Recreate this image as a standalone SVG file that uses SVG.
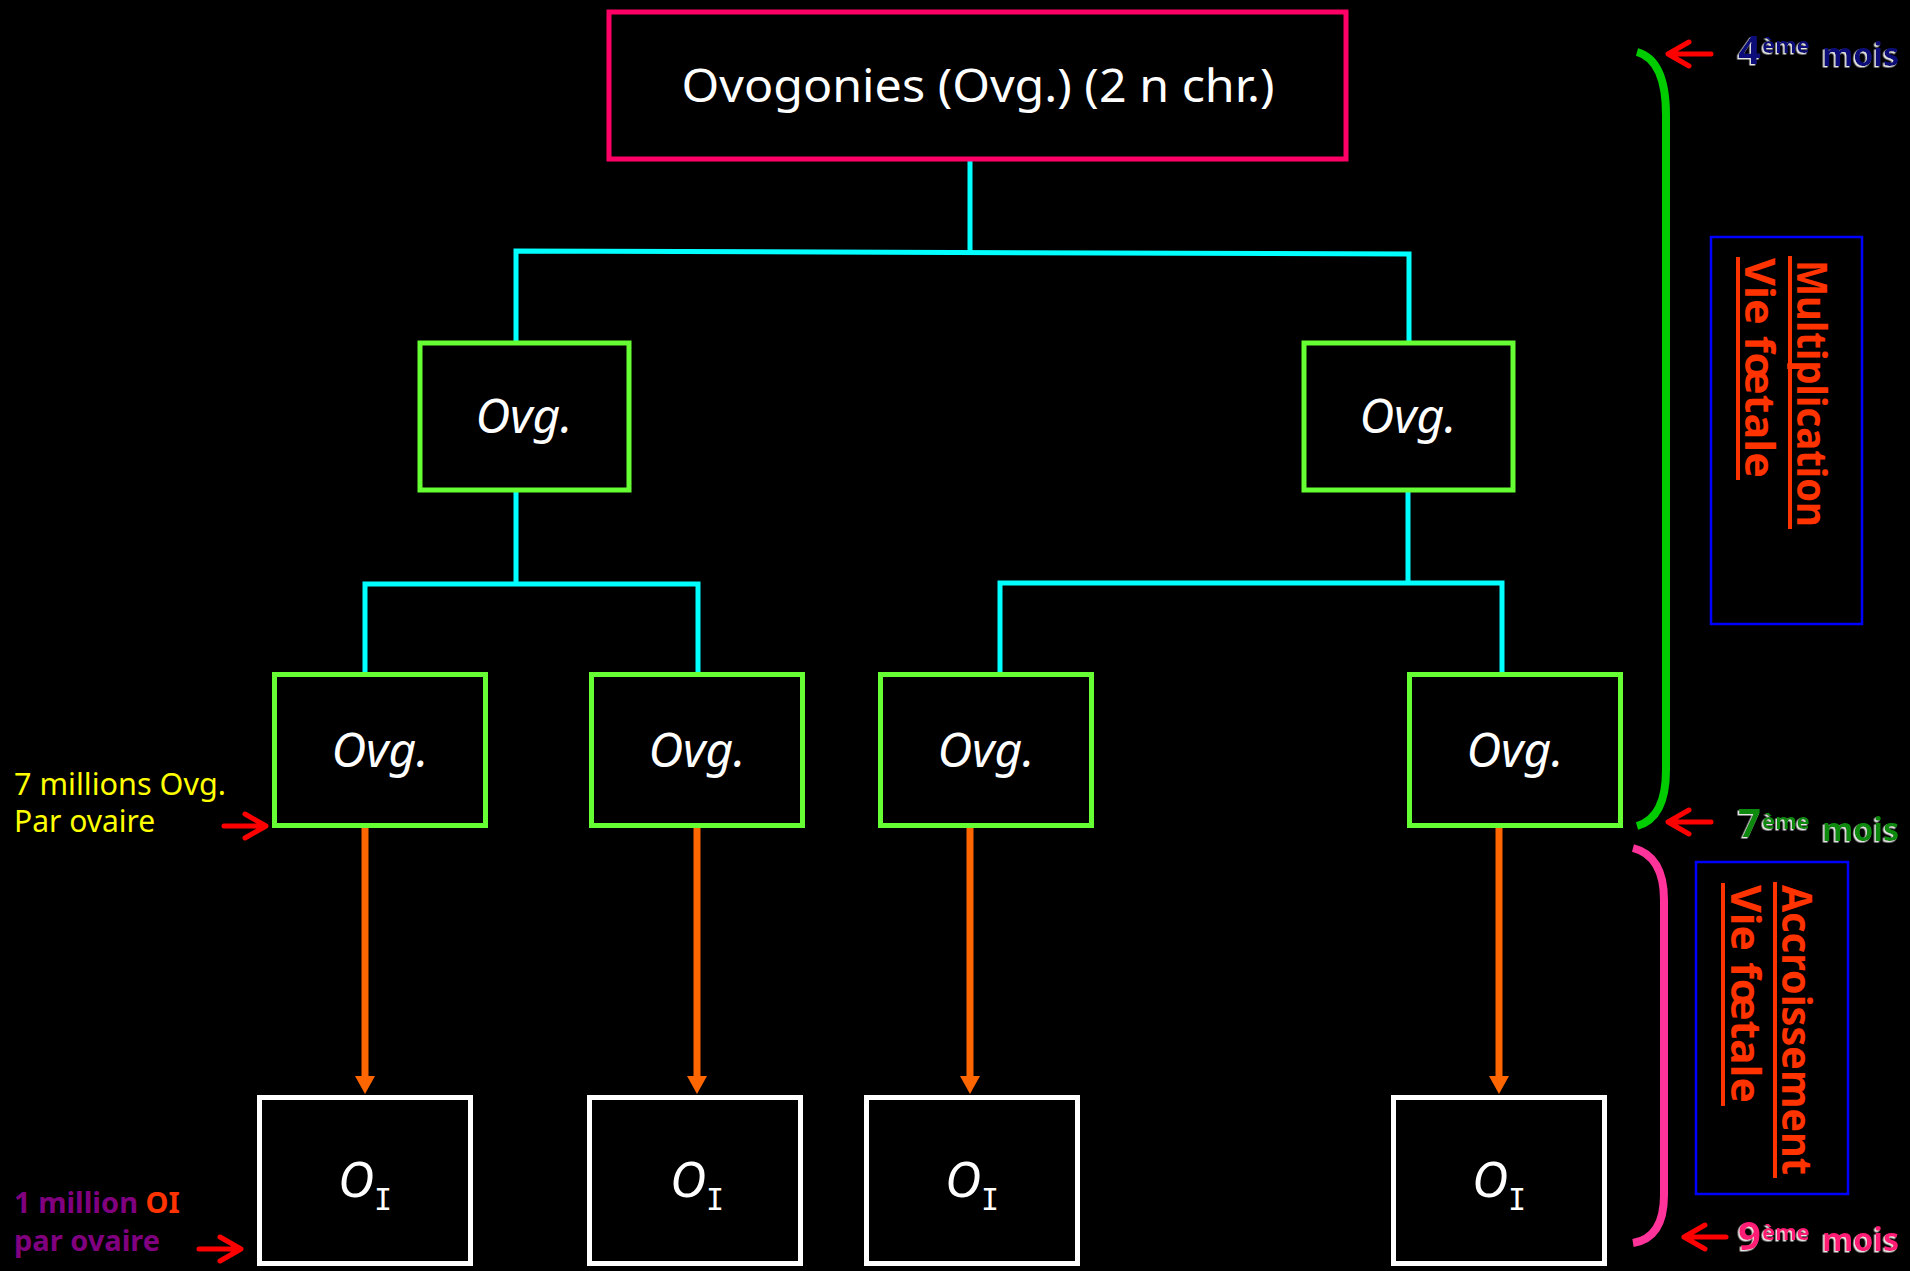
<svg xmlns="http://www.w3.org/2000/svg" width="1910" height="1271" viewBox="0 0 1910 1271">
<defs>
<style>
text{font-family:"Noto Sans","Open Sans","DejaVu Sans",sans-serif}
.box{fill:#000;stroke-width:5}
.top{stroke:#FF0066}
.ovg{stroke:#66FF33}
.oi{stroke:#FFFFFF}
.lbl{fill:#FFFFFF;text-anchor:middle}
.cy{stroke:#00FFFF;stroke-width:5;fill:none}
.or{stroke:#FF6600;stroke-width:7;fill:none}
.red{stroke:#FF0000;stroke-width:5;fill:none;stroke-linecap:round;stroke-linejoin:round}
.vt{fill:#FF3300;font-weight:bold;font-size:42px}
.ul{stroke:#FF3300;stroke-width:4}
.blue{fill:none;stroke:#0000FF;stroke-width:2.5}
.mo{font-weight:bold}
</style>
<marker id="ah" viewBox="0 0 18 20" markerUnits="userSpaceOnUse" markerWidth="18" markerHeight="20" refX="1" refY="10" orient="auto">
<path d="M0,0 L18,10 L0,20 z" fill="#FF6600"/>
</marker>
<filter id="sh" x="-10%" y="-10%" width="120%" height="130%">
<feDropShadow dx="-1.5" dy="1.5" stdDeviation="0.4" flood-color="#FFFFFF" flood-opacity="0.9"/>
</filter>
</defs>
<rect x="0" y="0" width="1910" height="1271" fill="#000"/>

<g id="connectors">
<path class="cy" d="M970,160 V252 M516,343 V251 L1409,254 V343"/>
<path class="cy" d="M516,490 V584 M365,675 V584 H698 V675"/>
<path class="cy" d="M1408,490 V583 M1000,675 V583 H1502 V675"/>
<line class="or" x1="365" y1="827" x2="365" y2="1077" marker-end="url(#ah)"/>
<line class="or" x1="697" y1="827" x2="697" y2="1077" marker-end="url(#ah)"/>
<line class="or" x1="970" y1="827" x2="970" y2="1077" marker-end="url(#ah)"/>
<line class="or" x1="1499" y1="827" x2="1499" y2="1077" marker-end="url(#ah)"/>
</g>

<g id="node-top">
<rect class="box top" x="609" y="12" width="737" height="147"/>
<text class="lbl" x="978" y="102" font-size="46" textLength="593" lengthAdjust="spacingAndGlyphs">Ovogonies (Ovg.) (2 n chr.)</text>
</g>

<g id="node-ovg-1a">
<rect class="box ovg" x="420" y="343" width="209" height="147"/>
<text class="lbl" x="524" y="433" font-size="48" font-style="italic">Ovg.</text>
</g>
<g id="node-ovg-1b">
<rect class="box ovg" x="1304" y="343" width="209" height="147"/>
<text class="lbl" x="1408" y="433" font-size="48" font-style="italic">Ovg.</text>
</g>

<g id="node-ovg-2a">
<rect class="box ovg" x="274.5" y="674.5" width="211" height="151"/>
<text class="lbl" x="380" y="767" font-size="48" font-style="italic">Ovg.</text>
</g>
<g id="node-ovg-2b">
<rect class="box ovg" x="591.5" y="674.5" width="211" height="151"/>
<text class="lbl" x="697" y="767" font-size="48" font-style="italic">Ovg.</text>
</g>
<g id="node-ovg-2c">
<rect class="box ovg" x="880.5" y="674.5" width="211" height="151"/>
<text class="lbl" x="986" y="767" font-size="48" font-style="italic">Ovg.</text>
</g>
<g id="node-ovg-2d">
<rect class="box ovg" x="1409.5" y="674.5" width="211" height="151"/>
<text class="lbl" x="1515" y="767" font-size="48" font-style="italic">Ovg.</text>
</g>

<g id="node-oi-a">
<rect class="box oi" x="259.5" y="1097.5" width="211" height="166"/>
<text class="lbl" x="365" y="1197" font-size="50"><tspan font-style="italic">O</tspan><tspan font-size="30" dy="13" font-family="DejaVu Sans Mono">I</tspan></text>
</g>
<g id="node-oi-b">
<rect class="box oi" x="589.5" y="1097.5" width="211" height="166"/>
<text class="lbl" x="697" y="1197" font-size="50"><tspan font-style="italic">O</tspan><tspan font-size="30" dy="13" font-family="DejaVu Sans Mono">I</tspan></text>
</g>
<g id="node-oi-c">
<rect class="box oi" x="866.5" y="1097.5" width="211" height="166"/>
<text class="lbl" x="972" y="1197" font-size="50"><tspan font-style="italic">O</tspan><tspan font-size="30" dy="13" font-family="DejaVu Sans Mono">I</tspan></text>
</g>
<g id="node-oi-d">
<rect class="box oi" x="1393.5" y="1097.5" width="211" height="166"/>
<text class="lbl" x="1499" y="1197" font-size="50"><tspan font-style="italic">O</tspan><tspan font-size="30" dy="13" font-family="DejaVu Sans Mono">I</tspan></text>
</g>

<g id="brackets">
<path d="M1637,52 Q1666,60 1666,115 L1666,770 Q1666,818 1637,826" fill="none" stroke="#00CC00" stroke-width="8"/>
<path d="M1633,848 Q1664,856 1664,900 L1664,1195 Q1664,1238 1633,1243" fill="none" stroke="#FF3399" stroke-width="8"/>
</g>

<g id="red-arrows">
<path class="red" d="M1711,54 H1669 M1689,42 L1668,54 L1689,66"/>
<path class="red" d="M1711,822 H1669 M1689,810 L1668,822 L1689,834"/>
<path class="red" d="M1726,1237 H1684 M1705,1225 L1684,1237 L1705,1249"/>
<path class="red" d="M224,826 H265 M245,814 L266,826 L245,838"/>
<path class="red" d="M199,1249 H240 M220,1237 L241,1249 L220,1261"/>
</g>

<g id="month-labels" filter="url(#sh)">
<text class="mo" fill="#10107A" font-size="40"><tspan x="1738" y="64">4</tspan><tspan x="1762" y="53" font-size="22">ème</tspan><tspan x="1822" y="66" font-size="33" textLength="77" lengthAdjust="spacingAndGlyphs">mois</tspan></text>
<text class="mo" fill="#0A8A0A" font-size="40"><tspan x="1738" y="837">7</tspan><tspan x="1762" y="829" font-size="22">ème</tspan><tspan x="1822" y="841" font-size="33" textLength="77" lengthAdjust="spacingAndGlyphs">mois</tspan></text>
<text class="mo" fill="#FF1A75" font-size="40"><tspan x="1738" y="1250">9</tspan><tspan x="1762" y="1240" font-size="22">ème</tspan><tspan x="1822" y="1251" font-size="33" textLength="77" lengthAdjust="spacingAndGlyphs">mois</tspan></text>
</g>

<g id="left-labels">
<text fill="#FFFF00" font-size="30"><tspan x="14" y="795" textLength="212" lengthAdjust="spacingAndGlyphs">7 millions Ovg.</tspan><tspan x="14" y="832">Par ovaire</tspan></text>
<text fill="#800080" font-size="29" font-weight="bold"><tspan x="14" y="1213">1 million <tspan fill="#FF3300">OI</tspan></tspan><tspan x="14" y="1251">par ovaire</tspan></text>
</g>

<g id="box-multiplication">
<rect class="blue" x="1711" y="237" width="151" height="387"/>
<text class="vt" transform="translate(1797,260) rotate(90)" textLength="267" lengthAdjust="spacingAndGlyphs">Multiplication</text>
<line class="ul" x1="1790" y1="256" x2="1790" y2="529"/>
<text class="vt" transform="translate(1745,258) rotate(90)" textLength="220" lengthAdjust="spacingAndGlyphs">Vie fœtale</text>
<line class="ul" x1="1738" y1="257" x2="1738" y2="480"/>
</g>

<g id="box-accroissement">
<rect class="blue" x="1696" y="862" width="152" height="332"/>
<text class="vt" transform="translate(1782,885) rotate(90)" textLength="290" lengthAdjust="spacingAndGlyphs">Accroissement</text>
<line class="ul" x1="1775" y1="882" x2="1775" y2="1178"/>
<text class="vt" transform="translate(1731,885) rotate(90)" textLength="218" lengthAdjust="spacingAndGlyphs">Vie fœtale</text>
<line class="ul" x1="1723" y1="883" x2="1723" y2="1106"/>
</g>
</svg>
